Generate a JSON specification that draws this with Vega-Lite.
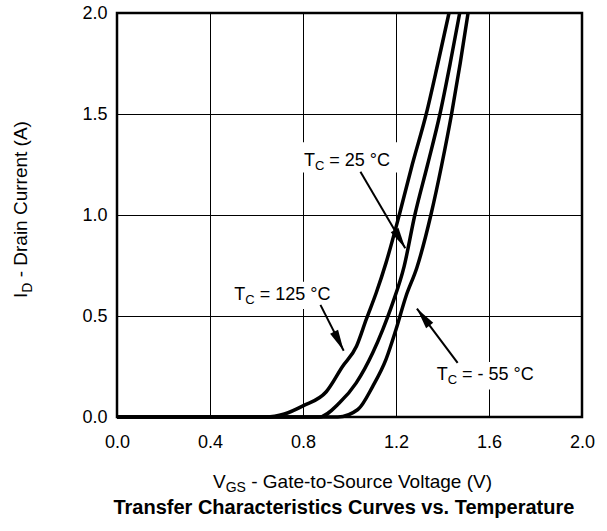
{
  "$schema": "https://vega.github.io/schema/vega-lite/v6.json",
  "description": "Transfer characteristics curves vs. temperature",
  "width": 465,
  "height": 404,
  "autosize": {"type": "none"},
  "padding": {"left": 117, "top": 13, "right": 25, "bottom": 114},
  "background": "white",
  "datasets": {
    "curves": [
      {"temp": "125", "x": 0, "y": 0},
      {"temp": "125", "x": 0.64, "y": 0},
      {"temp": "125", "x": 0.72, "y": 0.015},
      {"temp": "125", "x": 0.8, "y": 0.055},
      {"temp": "125", "x": 0.9, "y": 0.125},
      {"temp": "125", "x": 0.97, "y": 0.25},
      {"temp": "125", "x": 1.03, "y": 0.35},
      {"temp": "125", "x": 1.072, "y": 0.483},
      {"temp": "125", "x": 1.115, "y": 0.615},
      {"temp": "125", "x": 1.157, "y": 0.763},
      {"temp": "125", "x": 1.214, "y": 1.0},
      {"temp": "125", "x": 1.27, "y": 1.25},
      {"temp": "125", "x": 1.33, "y": 1.5},
      {"temp": "125", "x": 1.38, "y": 1.75},
      {"temp": "125", "x": 1.428, "y": 2.0},
      {"temp": "25", "x": 0, "y": 0},
      {"temp": "25", "x": 0.87, "y": 0},
      {"temp": "25", "x": 0.957, "y": 0.07},
      {"temp": "25", "x": 1.029, "y": 0.169},
      {"temp": "25", "x": 1.1, "y": 0.318},
      {"temp": "25", "x": 1.143, "y": 0.433},
      {"temp": "25", "x": 1.186, "y": 0.565},
      {"temp": "25", "x": 1.235, "y": 0.746},
      {"temp": "25", "x": 1.281, "y": 1.0},
      {"temp": "25", "x": 1.336, "y": 1.25},
      {"temp": "25", "x": 1.389, "y": 1.5},
      {"temp": "25", "x": 1.433, "y": 1.75},
      {"temp": "25", "x": 1.474, "y": 2.0},
      {"temp": "-55", "x": 0, "y": 0},
      {"temp": "-55", "x": 0.95, "y": 0},
      {"temp": "-55", "x": 1.036, "y": 0.037},
      {"temp": "-55", "x": 1.1, "y": 0.152},
      {"temp": "-55", "x": 1.157, "y": 0.285},
      {"temp": "-55", "x": 1.2, "y": 0.433},
      {"temp": "-55", "x": 1.243, "y": 0.598},
      {"temp": "-55", "x": 1.29, "y": 0.74},
      {"temp": "-55", "x": 1.35, "y": 1.0},
      {"temp": "-55", "x": 1.397, "y": 1.25},
      {"temp": "-55", "x": 1.439, "y": 1.5},
      {"temp": "-55", "x": 1.476, "y": 1.75},
      {"temp": "-55", "x": 1.51, "y": 2.0}
    ],
    "boxes": [
      {"label": "25", "x": 0.785, "x2": 1.21, "y": 1.21, "y2": 1.36},
      {"label": "125", "x": 0.49, "x2": 0.94, "y": 0.535, "y2": 0.67},
      {"label": "-55", "x": 1.36, "x2": 1.82, "y": 0.136, "y2": 0.272}
    ],
    "notes": [
      {"label": "25", "x": 0.804, "y": 1.244, "rest": "= 25 °C"},
      {"label": "125", "x": 0.5045, "y": 0.579, "rest": "= 125 °C"},
      {"label": "-55", "x": 1.375, "y": 0.183, "rest": "= - 55 °C"}
    ],
    "arrows": [
      {"label": "25", "x": 1.047, "y": 1.214, "x2": 1.24, "y2": 0.835},
      {"label": "125", "x": 0.875, "y": 0.555, "x2": 0.975, "y2": 0.328},
      {"label": "-55", "x": 1.465, "y": 0.268, "x2": 1.29, "y2": 0.537}
    ]
  },
  "encoding": {
    "x": {
      "field": "x",
      "type": "quantitative",
      "scale": {"domain": [0, 2], "nice": false, "zero": false},
      "axis": {"title": null, "values": [0, 0.4, 0.8, 1.2, 1.6, 2.0], "format": ".1f", "labelPadding": 16}
    },
    "y": {
      "field": "y",
      "type": "quantitative",
      "scale": {"domain": [0, 2], "nice": false},
      "axis": {"title": null, "values": [0, 0.5, 1, 1.5, 2], "format": ".1f", "labelPadding": 10}
    }
  },
  "layer": [
    {
      "data": {"name": "boxes"},
      "mark": {"type": "rect", "fill": "white", "strokeWidth": 0},
      "encoding": {"x2": {"field": "x2"}, "y2": {"field": "y2"}}
    },
    {
      "data": {"name": "curves"},
      "mark": {"type": "line", "stroke": "black", "strokeWidth": 3.5, "interpolate": "monotone", "strokeJoin": "round"},
      "encoding": {"detail": {"field": "temp"}}
    },
    {
      "data": {"name": "arrows"},
      "mark": {"type": "rule", "stroke": "black", "strokeWidth": 2},
      "encoding": {"x2": {"field": "x2"}, "y2": {"field": "y2"}}
    },
    {
      "data": {"name": "arrows"},
      "transform": [{"filter": {"field": "label", "equal": "25"}}],
      "mark": {"type": "point", "shape": "M0,0 L0.42,2 L-0.42,2 Z", "filled": true, "color": "black", "opacity": 1, "size": 450, "angle": 149.6},
      "encoding": {
        "x": {"field": "x2", "type": "quantitative"},
        "y": {"field": "y2", "type": "quantitative"}
      }
    },
    {
      "data": {"name": "arrows"},
      "transform": [{"filter": {"field": "label", "equal": "125"}}],
      "mark": {"type": "point", "shape": "M0,0 L0.42,2 L-0.42,2 Z", "filled": true, "color": "black", "opacity": 1, "size": 450, "angle": 153.1},
      "encoding": {
        "x": {"field": "x2", "type": "quantitative"},
        "y": {"field": "y2", "type": "quantitative"}
      }
    },
    {
      "data": {"name": "arrows"},
      "transform": [{"filter": {"field": "label", "equal": "-55"}}],
      "mark": {"type": "point", "shape": "M0,0 L0.42,2 L-0.42,2 Z", "filled": true, "color": "black", "opacity": 1, "size": 450, "angle": -36.9},
      "encoding": {
        "x": {"field": "x2", "type": "quantitative"},
        "y": {"field": "y2", "type": "quantitative"}
      }
    },
    {
      "data": {"name": "notes"},
      "mark": {"type": "text", "align": "left", "baseline": "alphabetic", "fontSize": 18},
      "encoding": {"text": {"value": "T"}}
    },
    {
      "data": {"name": "notes"},
      "mark": {"type": "text", "align": "left", "baseline": "alphabetic", "fontSize": 13, "dx": 11, "dy": 4},
      "encoding": {"text": {"value": "C"}}
    },
    {
      "data": {"name": "notes"},
      "mark": {"type": "text", "align": "left", "baseline": "alphabetic", "fontSize": 18, "dx": 25.4},
      "encoding": {"text": {"field": "rest"}}
    },
    {
      "data": {"values": [{"x": 0.413, "y": -0.352, "main": "V", "sub": "GS", "rest": "- Gate-to-Source Voltage (V)"}]},
      "layer": [
        {"mark": {"type": "text", "align": "left", "baseline": "alphabetic", "fontSize": 19}, "encoding": {"text": {"field": "main"}}},
        {"mark": {"type": "text", "align": "left", "baseline": "alphabetic", "fontSize": 14, "dx": 12.7, "dy": 4}, "encoding": {"text": {"field": "sub"}}},
        {"mark": {"type": "text", "align": "left", "baseline": "alphabetic", "fontSize": 19, "dx": 38.2}, "encoding": {"text": {"field": "rest"}}}
      ]
    },
    {
      "data": {"values": [{"x": -0.387, "y": 0.589, "main": "I", "sub": "D", "rest": "- Drain Current (A)"}]},
      "layer": [
        {"mark": {"type": "text", "align": "left", "baseline": "alphabetic", "fontSize": 19, "angle": 270}, "encoding": {"text": {"field": "main"}}},
        {"mark": {"type": "text", "align": "left", "baseline": "alphabetic", "fontSize": 14, "angle": 270, "dx": 5.3, "dy": 5}, "encoding": {"text": {"field": "sub"}}},
        {"mark": {"type": "text", "align": "left", "baseline": "alphabetic", "fontSize": 19, "angle": 270, "dx": 20.7}, "encoding": {"text": {"field": "rest"}}}
      ]
    },
    {
      "data": {"values": [{"x": 0.976, "y": -0.482, "title": "Transfer Characteristics Curves vs. Temperature"}]},
      "mark": {"type": "text", "align": "center", "baseline": "alphabetic", "fontSize": 20, "fontWeight": "bold"},
      "encoding": {"text": {"field": "title"}}
    }
  ],
  "config": {
    "view": {"stroke": "black", "strokeWidth": 2.5},
    "axis": {
      "grid": true,
      "gridColor": "black",
      "gridWidth": 1,
      "gridOpacity": 1,
      "ticks": false,
      "tickSize": 0,
      "domain": false,
      "labelFlush": false,
      "labelFont": "Liberation Sans",
      "labelFontSize": 18,
      "labelColor": "black"
    },
    "text": {"font": "Liberation Sans", "color": "black"}
  }
}
